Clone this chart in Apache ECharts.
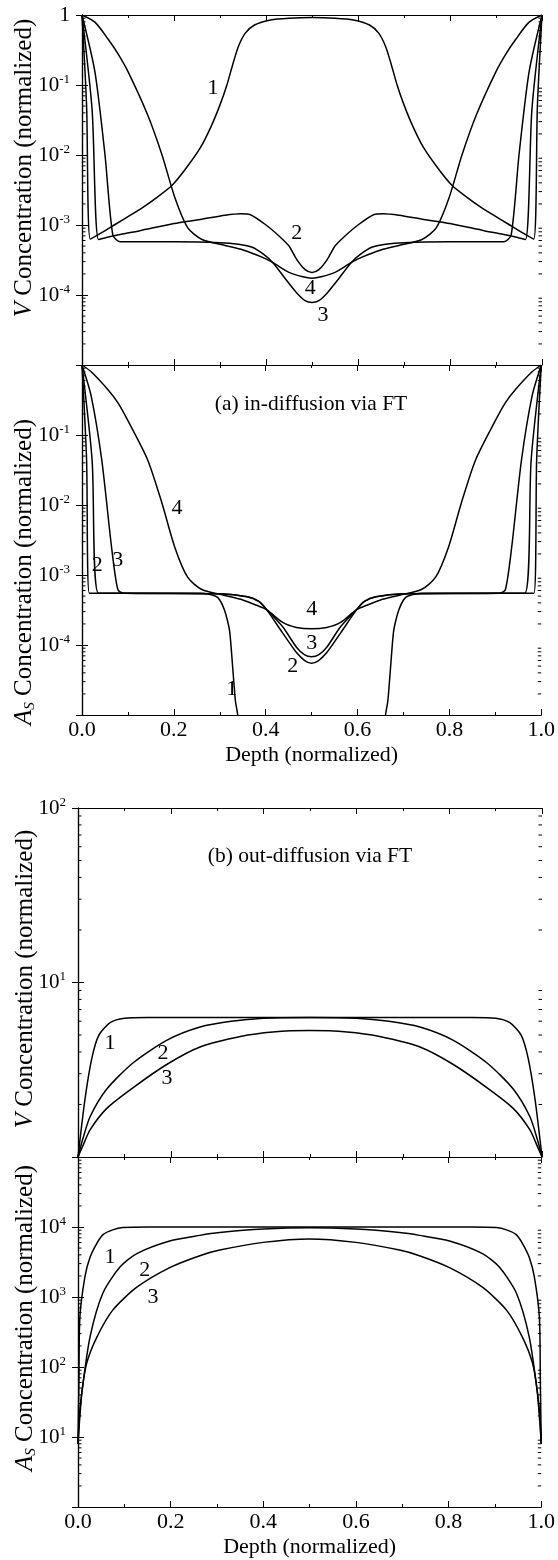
<!DOCTYPE html>
<html><head><meta charset="utf-8">
<script src="https://cdn.jsdelivr.net/npm/echarts@6/dist/echarts.min.js"></script>
<style>html,body{margin:0;padding:0;background:#fff}#c{width:558px;height:1560px}</style>
</head><body><div id="c"></div><script>
const FONT = "'Liberation Serif','DejaVu Serif',serif";

// x tick labels (depth, normalized)
const xTicks = [0, 0.2, 0.4, 0.6, 0.8, 1.0];

// (a) in-diffusion, V concentration
const vIn1 = [[0,1],[0.01,0.05],[0.018,6.3e-4],[0.04,7.6e-4],[0.07,1.0e-3],[0.1,1.32e-3],[0.13,1.74e-3],[0.16,2.4e-3],[0.196,3.7e-3],[0.225,6.3e-3],[0.257,1.26e-2],[0.28,2.5e-2],[0.3,5.2e-2],[0.315,0.1],[0.328,0.2],[0.34,0.355],[0.355,0.55],[0.375,0.72],[0.41,0.85],[0.45,0.9],[0.5,0.92],[0.55,0.9],[0.59,0.85],[0.625,0.72],[0.645,0.55],[0.66,0.355],[0.672,0.2],[0.685,0.1],[0.7,5.2e-2],[0.72,2.5e-2],[0.743,1.26e-2],[0.775,6.3e-3],[0.804,3.7e-3],[0.84,2.4e-3],[0.87,1.74e-3],[0.9,1.32e-3],[0.93,1.0e-3],[0.96,7.6e-4],[0.982,6.3e-4],[0.99,0.05],[1,1]];
const vIn2 = [[0,1],[0.022,0.044],[0.036,6.2e-4],[0.06,6.8e-4],[0.126,8.3e-4],[0.2,1.05e-3],[0.257,1.2e-3],[0.311,1.38e-3],[0.345,1.45e-3],[0.365,1.41e-3],[0.4,1.0e-3],[0.43,6.8e-4],[0.45,5.0e-4],[0.467,3.2e-4],[0.485,2.3e-4],[0.5,2.1e-4],[0.515,2.3e-4],[0.533,3.2e-4],[0.55,5.0e-4],[0.57,6.8e-4],[0.6,1.0e-3],[0.635,1.41e-3],[0.655,1.45e-3],[0.689,1.38e-3],[0.743,1.2e-3],[0.8,1.05e-3],[0.874,8.3e-4],[0.94,6.8e-4],[0.964,6.2e-4],[0.978,0.044],[1,1]];
const vIn3 = [[0,1],[0.028,0.155],[0.05,1.0e-2],[0.067,7.2e-4],[0.083,5.75e-4],[0.2,5.75e-4],[0.3,5.6e-4],[0.34,5.3e-4],[0.37,4.8e-4],[0.395,3.8e-4],[0.415,2.9e-4],[0.44,1.78e-4],[0.467,1.07e-4],[0.485,8.3e-5],[0.5,7.8e-5],[0.515,8.3e-5],[0.533,1.07e-4],[0.56,1.78e-4],[0.585,2.9e-4],[0.605,3.8e-4],[0.63,4.8e-4],[0.66,5.3e-4],[0.7,5.6e-4],[0.8,5.75e-4],[0.917,5.75e-4],[0.933,7.2e-4],[0.95,1.0e-2],[0.972,0.155],[1,1]];
const vIn4 = [[0,1],[0.028,0.79],[0.057,0.45],[0.078,0.28],[0.1,0.155],[0.143,3.7e-2],[0.174,1.0e-2],[0.202,2.45e-3],[0.23,9.1e-4],[0.261,6.2e-4],[0.311,5.1e-4],[0.35,4.4e-4],[0.39,3.5e-4],[0.415,2.9e-4],[0.45,2.1e-4],[0.48,1.82e-4],[0.5,1.74e-4],[0.52,1.82e-4],[0.55,2.1e-4],[0.585,2.9e-4],[0.61,3.5e-4],[0.65,4.4e-4],[0.689,5.1e-4],[0.739,6.2e-4],[0.77,9.1e-4],[0.798,2.45e-3],[0.826,1.0e-2],[0.857,3.7e-2],[0.9,0.155],[0.922,0.28],[0.943,0.45],[0.972,0.79],[1,1]];

// (a) in-diffusion, As concentration
const asIn1 = [[0,1],[0.01,0.044],[0.016,5.5e-4],[0.1,5.5e-4],[0.26,5.5e-4],[0.29,5.0e-4],[0.3,4.4e-4],[0.31,3.2e-4],[0.317,2.2e-4],[0.322,1.48e-4],[0.328,4.9e-5],[0.334,1.6e-5],[0.339,1.0e-5],[0.345,3e-6],[0.36,1e-7],[0.64,1e-7],[0.655,3e-6],[0.661,1.0e-5],[0.666,1.6e-5],[0.672,4.9e-5],[0.678,1.48e-4],[0.683,2.2e-4],[0.69,3.2e-4],[0.7,4.4e-4],[0.71,5.0e-4],[0.74,5.5e-4],[0.9,5.5e-4],[0.984,5.5e-4],[0.99,0.044],[1,1]];
const asIn2 = [[0,1],[0.022,0.044],[0.036,5.5e-4],[0.1,5.5e-4],[0.3,5.4e-4],[0.36,4.9e-4],[0.385,4.2e-4],[0.402,3.2e-4],[0.437,1.48e-4],[0.467,7.8e-5],[0.485,6.0e-5],[0.5,5.5e-5],[0.515,6.0e-5],[0.533,7.8e-5],[0.563,1.48e-4],[0.598,3.2e-4],[0.615,4.2e-4],[0.64,4.9e-4],[0.7,5.4e-4],[0.9,5.5e-4],[0.964,5.5e-4],[0.978,0.044],[1,1]];
const asIn3 = [[0,1],[0.02,0.36],[0.043,0.044],[0.065,2.3e-3],[0.078,6.2e-4],[0.09,5.5e-4],[0.3,5.4e-4],[0.36,4.9e-4],[0.385,4.2e-4],[0.402,3.2e-4],[0.437,1.82e-4],[0.467,9.3e-5],[0.485,7.2e-5],[0.5,6.8e-5],[0.515,7.2e-5],[0.533,9.3e-5],[0.563,1.82e-4],[0.598,3.2e-4],[0.615,4.2e-4],[0.64,4.9e-4],[0.7,5.4e-4],[0.91,5.5e-4],[0.922,6.2e-4],[0.935,2.3e-3],[0.957,0.044],[0.98,0.36],[1,1]];
const asIn4 = [[0,1],[0.02,0.8],[0.057,0.44],[0.078,0.29],[0.1,0.16],[0.143,4.4e-2],[0.174,1.07e-2],[0.202,2.5e-3],[0.23,9.3e-4],[0.261,6.2e-4],[0.311,5.1e-4],[0.35,4.4e-4],[0.38,3.7e-4],[0.402,3.2e-4],[0.437,2.1e-4],[0.467,1.78e-4],[0.5,1.7e-4],[0.533,1.78e-4],[0.563,2.1e-4],[0.598,3.2e-4],[0.62,3.7e-4],[0.65,4.4e-4],[0.689,5.1e-4],[0.739,6.2e-4],[0.77,9.3e-4],[0.798,2.5e-3],[0.826,1.07e-2],[0.857,4.4e-2],[0.9,0.16],[0.922,0.29],[0.943,0.44],[0.98,0.8],[1,1]];

// (b) out-diffusion, V concentration
const vOut1 = [[0,1],[0.015,2.14],[0.03,3.7],[0.045,5.0],[0.07,5.9],[0.1,6.24],[0.15,6.3],[0.5,6.3],[0.85,6.3],[0.9,6.24],[0.93,5.9],[0.955,5.0],[0.97,3.7],[0.985,2.14],[1,1]];
const vOut2 = [[0,1],[0.01,1.26],[0.026,1.7],[0.062,2.45],[0.119,3.47],[0.192,4.68],[0.263,5.56],[0.33,6.0],[0.4,6.24],[0.5,6.3],[0.6,6.24],[0.67,6.0],[0.737,5.56],[0.808,4.68],[0.881,3.47],[0.938,2.45],[0.974,1.7],[0.99,1.26],[1,1]];
const vOut3 = [[0,1],[0.01,1.15],[0.026,1.43],[0.062,1.9],[0.119,2.5],[0.192,3.4],[0.263,4.27],[0.35,4.9],[0.42,5.2],[0.5,5.3],[0.58,5.2],[0.65,4.9],[0.737,4.27],[0.808,3.4],[0.881,2.5],[0.938,1.9],[0.974,1.43],[0.99,1.15],[1,1]];

// (b) out-diffusion, As concentration
const asOut1 = [[0,8],[0.002,63],[0.004,510],[0.015,1950],[0.026,3700],[0.041,5900],[0.054,7800],[0.075,9100],[0.097,9800],[0.15,10000],[0.5,10000],[0.85,10000],[0.903,9800],[0.925,9100],[0.946,7800],[0.959,5900],[0.974,3700],[0.985,1950],[0.996,510],[0.998,63],[1,8]];
const asOut2 = [[0,8],[0.003,20],[0.009,47],[0.026,270],[0.054,1150],[0.091,2700],[0.127,4170],[0.198,6310],[0.263,7590],[0.306,8320],[0.4,9330],[0.5,9770],[0.6,9330],[0.694,8320],[0.737,7590],[0.802,6310],[0.873,4170],[0.909,2700],[0.946,1150],[0.974,270],[0.991,47],[0.997,20],[1,8]];
const asOut3 = [[0,8],[0.003,16],[0.009,47],[0.019,115],[0.041,270],[0.075,650],[0.127,1380],[0.198,2630],[0.263,3890],[0.306,4680],[0.4,6030],[0.5,6760],[0.6,6030],[0.694,4680],[0.737,3890],[0.802,2630],[0.873,1380],[0.925,650],[0.959,270],[0.981,115],[0.991,47],[0.997,16],[1,8]];

// curve number labels [depth, value, text]
const lab1 = [[0.285,0.091,'1'],[0.467,7.7e-4,'2'],[0.496,1.26e-4,'4'],[0.524,5.1e-5,'3']];
const lab2 = [[0.033,1.38e-3,'2'],[0.078,1.62e-3,'3'],[0.207,9.1e-3,'4'],[0.326,2.3e-5,'1'],[0.5,3.2e-4,'4'],[0.5,1.07e-4,'3'],[0.459,4.9e-5,'2']];
const lab3 = [[0.069,4.5,'1'],[0.183,3.95,'2'],[0.192,2.84,'3']];
const lab4 = [[0.069,3700,'1'],[0.144,2450,'2'],[0.162,1000,'3']];

// minor tick multipliers per decade
const minorMult = [2,3,4,5,6,7,8,9];

const panels = [
  {left:82, top:15, width:460, height:350, ymin:1e-5, ymax:1, hide:[-5], xl:false, dec:[-5,-4,-3,-2,-1], curves:[vIn1,vIn2,vIn3,vIn4], labs:lab1},
  {left:82, top:365, width:460, height:350, ymin:1e-5, ymax:1, hide:[0,-5], xl:true, dec:[-5,-4,-3,-2,-1], curves:[asIn1,asIn2,asIn3,asIn4], labs:lab2},
  {left:78, top:808, width:464, height:349, ymin:1, ymax:100, hide:[0], xl:false, dec:[0,1], curves:[vOut1,vOut2,vOut3], labs:lab3},
  {left:78, top:1157, width:464, height:350, ymin:1, ymax:1e5, hide:[0,5], xl:true, dec:[0,1,2,3,4], curves:[asOut1,asOut2,asOut3], labs:lab4}
];

const black = '#000';
const grids = [], xAxes = [], yAxes = [], series = [];
panels.forEach((p, i) => {
  grids.push({left:p.left, top:p.top, width:p.width, height:p.height});
  const xBase = {gridIndex:i, type:'value', min:0, max:1, interval:0.2,
    axisLine:{onZero:false, lineStyle:{color:black, width:1.2}},
    axisTick:{inside:true, length:6, lineStyle:{color:black, width:1}},
    minorTick:{show:true, splitNumber:2, length:3, lineStyle:{color:black, width:1}},
    splitLine:{show:false}, minorSplitLine:{show:false}};
  xAxes.push(Object.assign({}, xBase, {position:'bottom',
    axisLabel:{show:p.xl, formatter:v => (xTicks.find(t => Math.abs(t - v) < 1e-9) ?? v).toFixed(1), fontFamily:FONT, fontSize:22, color:black, margin:4},
    name:p.xl ? 'Depth (normalized)' : '', nameLocation:'middle', nameGap:29,
    nameTextStyle:{fontFamily:FONT, fontSize:22, color:black}}));
  xAxes.push(Object.assign({}, xBase, {position:'top', axisLabel:{show:false}}));
  const yBase = {gridIndex:i, type:'log', logBase:10, min:p.ymin, max:p.ymax,
    axisLine:{show:true, lineStyle:{color:black, width:1.2}},
    axisTick:{show:true, inside:true, length:6, lineStyle:{color:black, width:1}},
    splitLine:{show:false}};
  yAxes.push(Object.assign({}, yBase, {position:'left',
    axisLabel:{margin:12, color:black,
      formatter: v => { const e = Math.round(Math.log10(v)); if (p.hide.indexOf(e) >= 0) return ''; if (e === 0) return '{b|1}'; return '{b|10}{s|' + e + '}'; },
      rich:{b:{fontFamily:FONT, fontSize:21, color:black, lineHeight:24}, s:{fontFamily:FONT, fontSize:13, color:black, lineHeight:13, verticalAlign:'top'}}}}));
  yAxes.push(Object.assign({}, yBase, {position:'right', axisLabel:{show:false}}));

  p.curves.forEach(c => series.push({type:'line', xAxisIndex:2*i, yAxisIndex:2*i, data:c, showSymbol:false, symbol:'none', smooth:0.25, clip:true, lineStyle:{color:black, width:1.5}, silent:true, z:3}));

  const minors = [];
  p.dec.forEach(e => minorMult.forEach(m => minors.push([0, m * Math.pow(10, e)])));
  series.push({type:'custom', xAxisIndex:2*i, yAxisIndex:2*i, data:minors, silent:true, z:2,
    renderItem:(params, api) => { const v = api.value(1); const a = api.coord([0, v]); const b = api.coord([1, v]);
      return {type:'group', children:[
        {type:'line', shape:{x1:a[0], y1:a[1], x2:a[0]+3.5, y2:a[1]}, style:{stroke:black, lineWidth:1}},
        {type:'line', shape:{x1:b[0]-3.5, y1:b[1], x2:b[0], y2:b[1]}, style:{stroke:black, lineWidth:1}}]}; }});

  series.push({type:'scatter', xAxisIndex:2*i, yAxisIndex:2*i, data:p.labs, symbolSize:1, itemStyle:{color:'rgba(0,0,0,0)', opacity:1}, silent:true, z:4,
    label:{show:true, position:'inside', formatter:q => q.data[2], fontFamily:FONT, fontSize:22, color:black, opacity:1}});
});

const nameRich = {i:{fontFamily:FONT, fontSize:25, fontStyle:'italic', color:black, lineHeight:28},
  t:{fontFamily:FONT, fontSize:25, color:black, lineHeight:28},
  sub:{fontFamily:FONT, fontSize:15, fontStyle:'italic', color:black, lineHeight:15, verticalAlign:'bottom'}};
function yName(x, y, as) {
  return {type:'text', x:x, y:y, rotation:Math.PI/2, silent:true,
    style:{text: as ? '{i|A}{sub|S}{t| Concentration (normalized)}' : '{i|V}{t| Concentration (normalized)}', rich:nameRich,
      align:'center', verticalAlign:'middle', textAlign:'center', textVerticalAlign:'middle', fill:black}};
}
function note(x, y, s) {
  return {type:'text', x:x, y:y, silent:true, style:{text:s, fontFamily:FONT, fontSize:21.5, fill:black, align:'center', verticalAlign:'middle', textAlign:'center', textVerticalAlign:'middle'}};
}

const chart = echarts.init(document.getElementById('c'), null, {renderer:'canvas'});
chart.setOption({
  animation:false, backgroundColor:'#fff',
  grid:grids, xAxis:xAxes, yAxis:yAxes, series:series,
  graphic:[yName(24,168,false), yName(24,572,true), yName(25,979,false), yName(25,1318,true),
    note(311,404,'(a) in-diffusion via FT'), note(310,856,'(b) out-diffusion via FT')]
});
</script></body></html>
